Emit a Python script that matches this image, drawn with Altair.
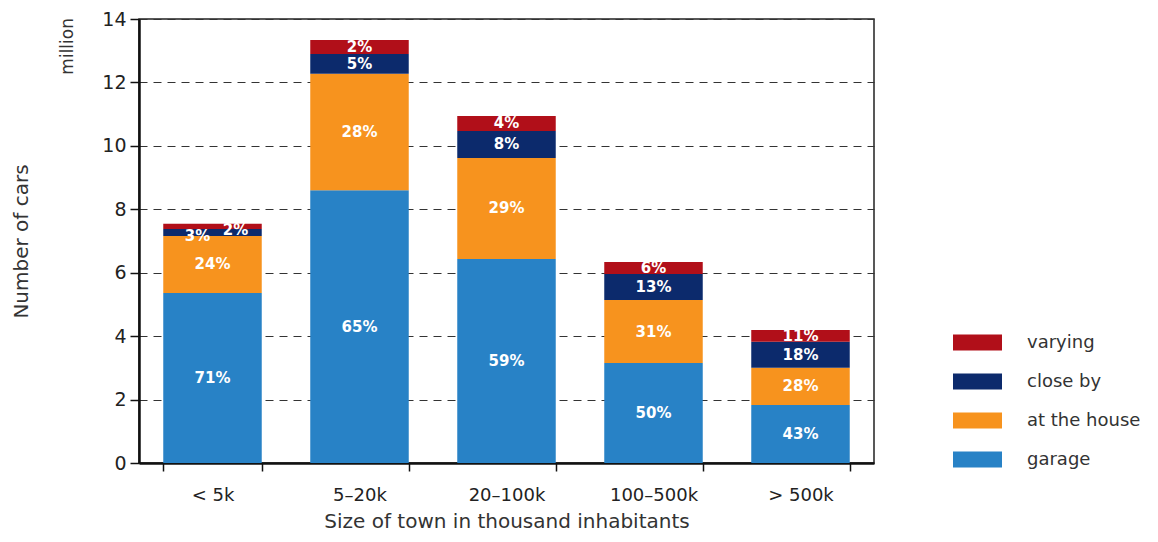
import altair as alt
import pandas as pd

towns = ["< 5k", "5–20k", "20–100k", "100–500k", "> 500k"]
kinds = ["garage", "at the house", "close by", "varying"]
# millions of cars per segment
garage = [5.36, 8.60, 6.43, 3.15, 1.83]
at_house = [1.80, 3.67, 3.19, 1.99, 1.17]
close_by = [0.22, 0.63, 0.85, 0.82, 0.82]
varying = [0.16, 0.44, 0.47, 0.38, 0.37]
pct_garage = ["71%", "65%", "59%", "50%", "43%"]
pct_house = ["24%", "28%", "29%", "31%", "28%"]
pct_close = ["3%", "5%", "8%", "13%", "18%"]
pct_vary = ["2%", "2%", "4%", "6%", "11%"]

colors = {"varying": "#B10F19", "close by": "#0C2A6C", "at the house": "#F7931E", "garage": "#2882C6"}

rows = []
for i, t in enumerate(towns):
    for k, (vals, pcts) in enumerate([(garage, pct_garage), (at_house, pct_house),
                                      (close_by, pct_close), (varying, pct_vary)]):
        rows.append({"town": t, "kind": kinds[k], "order": k, "value": vals[i], "pct": pcts[i]})
df = pd.DataFrame(rows)

FONT = "DejaVu Sans"
legend_order = ["varying", "close by", "at the house", "garage"]

base = alt.Chart(df).transform_stack(
    stack="value", groupby=["town"], as_=["v0", "v1"], sort=[alt.SortField("order")]
).transform_calculate(mid="(datum.v0 + datum.v1) / 2")

xenc = alt.X("town:N", sort=towns, title="Size of town in thousand inhabitants",
             scale=alt.Scale(paddingInner=0.33, paddingOuter=0.165),
             axis=alt.Axis(tickBand="extent", labelAngle=0, labelFontSize=18, labelColor="#222",
                           labelPadding=15, tickSize=8, tickColor="#111", tickWidth=1.5,
                           domainColor="#111", domainWidth=2.5, titleFontSize=20,
                           titleFontWeight="normal", titleColor="#333", titlePadding=7,
                           labelFont=FONT, titleFont=FONT))

bars = base.mark_bar().encode(
    x=xenc,
    y=alt.Y("v0:Q", scale=alt.Scale(domain=[0, 14]), title="Number of cars",
            axis=alt.Axis(values=[0, 2, 4, 6, 8, 10, 12, 14], tickSize=9, tickColor="#111",
                          tickWidth=1.5, domainColor="#111", domainWidth=2.5,
                          labelFontSize=19, labelColor="#222", labelPadding=4,
                          grid=True, gridColor="#333", gridDash=[8, 6], gridWidth=1,
                          titleFontSize=20, titleFontWeight="normal", titleColor="#333",
                          titlePadding=70, labelFont=FONT, titleFont=FONT)),
    y2="v1:Q",
    color=alt.Color("kind:N", scale=alt.Scale(domain=legend_order,
                                               range=[colors[k] for k in legend_order]),
                    legend=alt.Legend(title=None, orient="none", legendX=814, legendY=299,
                                      symbolType="M-1,-0.33L1,-0.33L1,0.33L-1,0.33Z",
                                      symbolSize=2401, symbolStrokeWidth=0, labelFontSize=18,
                                      labelColor="#333", labelOffset=25, rowPadding=5,
                                      labelFont=FONT, symbolOpacity=1)),
    order=alt.Order("order:Q"),
)

is_special = "datum.town == '< 5k' && (datum.kind == 'close by' || datum.kind == 'varying')"

labels = base.transform_filter("!(" + is_special + ")").mark_text(
    color="white", fontWeight="bold", fontSize=15, font=FONT, baseline="middle"
).encode(x=alt.X("town:N", sort=towns), y=alt.Y("mid:Q"), text="pct:N")

lab3 = base.transform_filter("datum.town == '< 5k' && datum.kind == 'close by'").mark_text(
    color="white", fontWeight="bold", fontSize=15, font=FONT, baseline="middle", dx=-15, dy=4
).encode(x=alt.X("town:N", sort=towns), y=alt.Y("mid:Q"), text="pct:N")

lab2 = base.transform_filter("datum.town == '< 5k' && datum.kind == 'varying'").mark_text(
    color="white", fontWeight="bold", fontSize=15, font=FONT, baseline="middle", dx=23, dy=4
).encode(x=alt.X("town:N", sort=towns), y=alt.Y("mid:Q"), text="pct:N")

million = alt.Chart(pd.DataFrame({"t": ["million"]})).mark_text(
    angle=270, align="right", baseline="middle", fontSize=17, font=FONT, color="#333"
).encode(x=alt.value(-71), y=alt.value(-1), text="t:N")

chart = alt.layer(bars, labels, lab3, lab2, million).properties(
    width=735, height=444,
    autosize=alt.AutoSizeParams(type="none"),
    padding={"left": 131, "top": 11, "right": 276, "bottom": 71},
).configure_view(stroke="#222", strokeWidth=1.5)

chart.save("out.html", embed_options={"renderer": "svg", "actions": False})
